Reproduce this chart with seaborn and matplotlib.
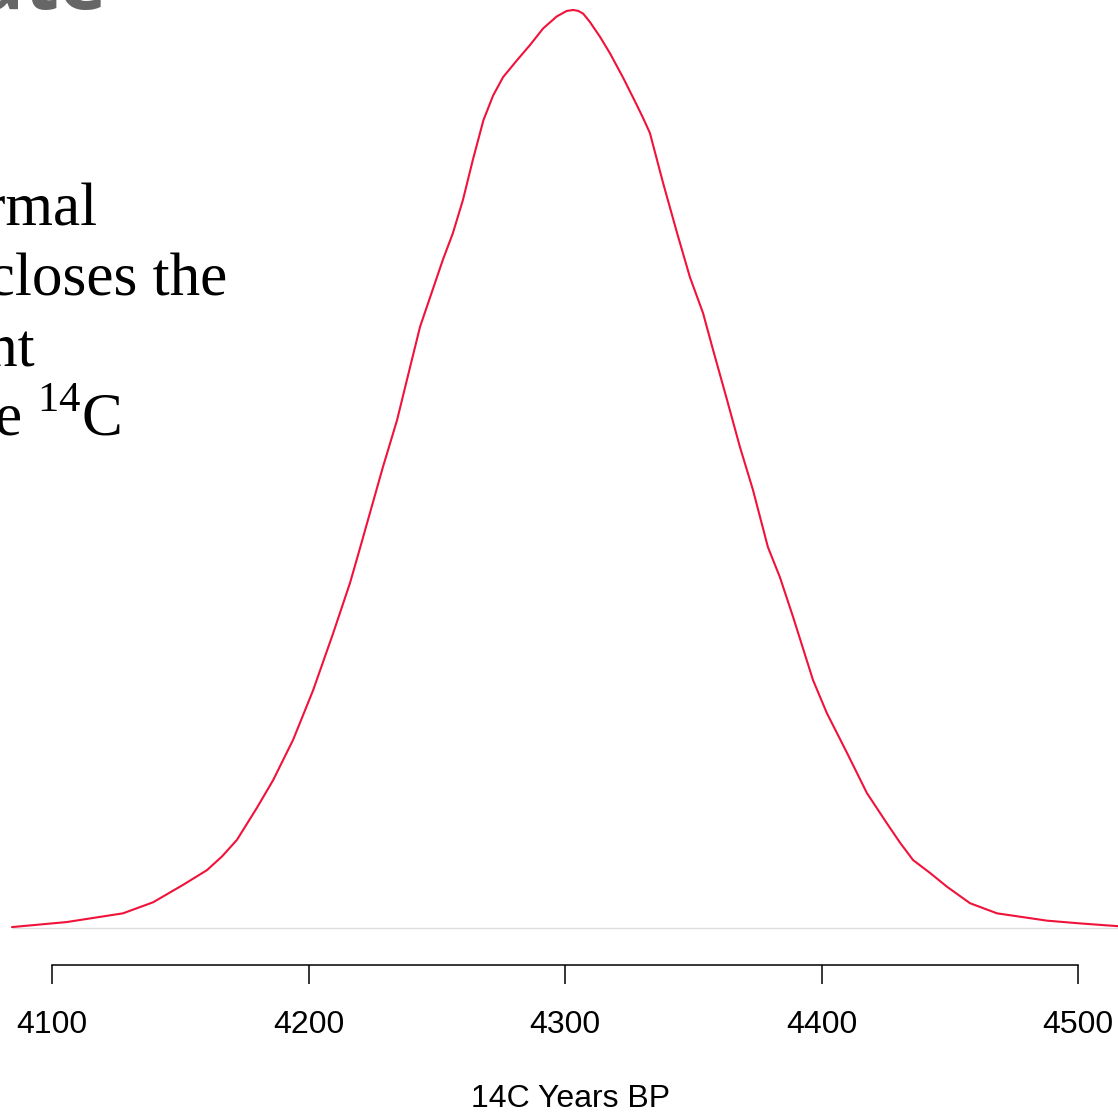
import matplotlib
matplotlib.use("Agg")
import matplotlib.pyplot as plt
import matplotlib.transforms as mtransforms
import seaborn as sns
import pandas as pd

# Radiocarbon age (14C years BP) and relative probability density
years = [4084.4, 4105.8, 4127.7, 4139.4, 4151.1, 4160.4, 4166.3, 4172.1, 4179.9,
         4186.2, 4194.0, 4201.8, 4209.6, 4216.2, 4220.1, 4229.0, 4234.5, 4239.6,
         4243.5, 4247.4, 4252.4, 4256.3, 4260.2, 4264.1, 4268.2, 4272.0, 4275.9,
         4281.2, 4286.4, 4291.5, 4296.8, 4300.7, 4303.2, 4305.2, 4307.1, 4309.7,
         4313.6, 4317.5, 4322.7, 4327.9, 4330.5, 4333.1, 4338.2, 4343.7, 4348.7,
         4353.8, 4357.7, 4363.2, 4368.2, 4373.3, 4379.1, 4383.8, 4388.9, 4396.7,
         4402.1, 4409.9, 4417.7, 4425.5, 4430.6, 4435.7, 4442.3, 4448.9, 4457.9,
         4468.4, 4487.9, 4500.8, 4515.6]
density = [0.001, 0.0065, 0.016, 0.028, 0.047, 0.063, 0.078, 0.096, 0.131,
           0.161, 0.205, 0.259, 0.321, 0.376, 0.414, 0.502, 0.553, 0.611,
           0.655, 0.687, 0.728, 0.757, 0.793, 0.837, 0.880, 0.907, 0.927,
           0.945, 0.962, 0.980, 0.993, 0.999, 1.000, 0.999, 0.996, 0.987,
           0.971, 0.953, 0.926, 0.897, 0.882, 0.866, 0.812, 0.757, 0.709,
           0.670, 0.630, 0.575, 0.524, 0.477, 0.415, 0.382, 0.339, 0.270,
           0.234, 0.191, 0.147, 0.114, 0.093, 0.074, 0.060, 0.045, 0.027,
           0.016, 0.008, 0.005, 0.002]

tick_values = [4100, 4200, 4300, 4400, 4500]
x_label = "14C Years BP"

sns.set_style("white")
plt.rcParams["font.family"] = ["Liberation Sans", "DejaVu Sans"]
plt.rcParams["mathtext.fontset"] = "custom"
plt.rcParams["mathtext.rm"] = "Liberation Serif"

W, H = 1118, 1114
fig = plt.figure(figsize=(W / 100, H / 100), dpi=100)
ax = fig.add_axes([0, (H - 928) / H, 1, 928 / H])

df = pd.DataFrame({"year": years, "density": density})
sns.lineplot(data=df, x="year", y="density", ax=ax, color="#F0123A",
             linewidth=1.5, sort=False, estimator=None)

ax.axhline(0, xmin=12 / W, xmax=1, color="#dddddd", linewidth=1, clip_on=False, zorder=0)

ax.set_xlim(4100 - 52 / 2.565, 4100 + (W - 52) / 2.565)
ax.set_ylim(0, 1 + 10 / 918)

for side in ("top", "right", "left"):
    ax.spines[side].set_visible(False)
ax.spines["bottom"].set_position(("outward", 37 * 0.72))
ax.spines["bottom"].set_bounds(tick_values[0], tick_values[-1])
ax.spines["bottom"].set_linewidth(1.1)
ax.spines["bottom"].set_color("black")
ax.set_yticks([])
ax.set_xticks(tick_values)
ax.set_xticklabels([str(t) for t in tick_values])
ax.tick_params(axis="x", direction="out", length=13.7, width=1.1, color="black",
               labelcolor="black", labelsize=23, pad=18.5, bottom=True)
ax.set_xlabel(x_label, fontsize=23, color="black")
label_tr = mtransforms.blended_transform_factory(ax.transData, ax.transAxes)
ax.xaxis.set_label_coords(4302, -(1084 - 928) / 928, transform=label_tr)
ax.set_ylabel("")

# Slide text running in from the left edge
fig.text(107 / W, 1 - 8 / H, "Calibrate", ha="right", va="baseline",
         fontsize=58, fontweight="bold", color="#666666", family=["Open Sans", "DejaVu Sans"])
serif = ["Liberation Serif", "DejaVu Serif"]
lines = [("normal", 98, 225), ("encloses the", 227, 296), ("point", 35, 366),
         ("the $^{\\mathrm{14}}$C", 121, 436)]
for txt, xr, yb in lines:
    fig.text(xr / W, 1 - yb / H, txt, ha="right", va="baseline", fontsize=44,
             color="black", family=serif)

fig.savefig("out.png", dpi=100)
